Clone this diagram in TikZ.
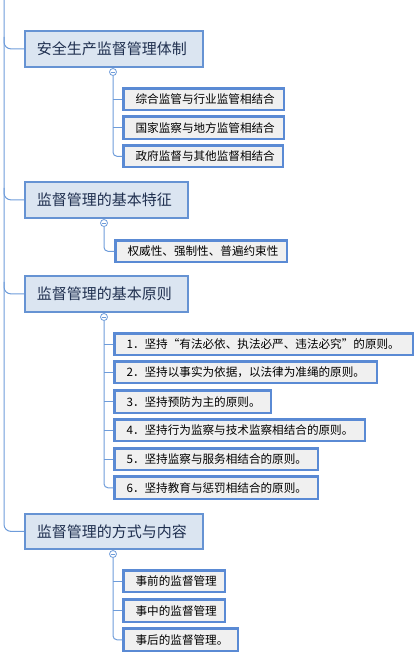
\documentclass[tikz,border=0pt]{standalone}
\usepackage{fontspec}
\newfontfamily\cjk{Noto Sans CJK SC}
\usetikzlibrary{calc}
\definecolor{mainfill}{HTML}{DBE5F1}
\definecolor{mainborder}{HTML}{6693D3}
\definecolor{subfill}{HTML}{F0F0F0}
\definecolor{subborder}{HTML}{5A8AD4}
\definecolor{connc}{HTML}{6E9CDA}
\definecolor{maintext}{HTML}{1F2F4F}
\tikzset{
  mainbox/.style={draw=mainborder, fill=mainfill, line width=1.8pt, inner xsep=12pt, inner ysep=0pt,
    anchor=north west, text=maintext, font=\cjk\fontsize{15}{18}\selectfont},
  subbox/.style={draw=subborder, fill=subfill, line width=2.6pt, inner xsep=12pt, inner ysep=0pt,
    anchor=north west, text=black, font=\cjk\fontsize{11.6}{14}\selectfont},
  conn/.style={draw=connc, line width=1pt},
  fold/.style={circle, draw=connc, fill=white, line width=0.8pt, minimum size=7pt, inner sep=0pt,
    path picture={\draw[connc, line width=0.7pt] ([xshift=-2pt]path picture bounding box.center) -- ([xshift=2pt]path picture bounding box.center);}}
}
\newcommand\mknode[8]{%
  \pgfmathsetmacro\bxw{#6-#4-#2}%
  \pgfmathsetmacro\bxh{#7-#5-#2}%
  \pgfmathsetmacro\bxt{#6-#4-#2-24}%
  \node[#1, minimum width=\bxw pt, minimum height=\bxh pt] (#3) at ({#4+#2/2},{#5+#2/2}) {\makebox[\bxt pt][l]{#8}};%
}
\begin{document}
\begin{tikzpicture}[x=1pt,y=-1pt]
\useasboundingbox (0,0) rectangle (420,656);
% main nodes
\mknode{mainbox}{1.8}{m1}{23}{29}{203}{67}{安全生产监督管理体制}
\mknode{mainbox}{1.8}{m2}{23}{180}{188}{218}{监督管理的基本特征}
\mknode{mainbox}{1.8}{m3}{23}{274}{188}{312}{监督管理的基本原则}
\mknode{mainbox}{1.8}{m4}{23}{512}{203}{549}{监督管理的方式与内容}
% children of m1
\mknode{subbox}{2.6}{a1}{121}{86}{284}{110}{综合监管与行业监管相结合}
\mknode{subbox}{2.6}{a2}{121}{114}{284}{139}{国家监察与地方监管相结合}
\mknode{subbox}{2.6}{a3}{121}{143}{283}{167}{政府监督与其他监督相结合}
% child of m2
\mknode{subbox}{2.6}{b1}{113}{238}{287}{262}{权威性、强制性、普遍约束性}
% children of m3
\mknode{subbox}{2.6}{c1}{112}{331}{413}{355}{1．坚持“有法必依、执法必严、违法必究”的原则。}
\mknode{subbox}{2.6}{c2}{112}{359}{377}{383}{2．坚持以事实为依据，以法律为准绳的原则。}
\mknode{subbox}{2.6}{c3}{112}{388}{271}{413}{3．坚持预防为主的原则。}
\mknode{subbox}{2.6}{c4}{112}{417}{365}{441}{4．坚持行为监察与技术监察相结合的原则。}
\mknode{subbox}{2.6}{c5}{112}{446}{318}{470}{5．坚持监察与服务相结合的原则。}
\mknode{subbox}{2.6}{c6}{112}{474}{318}{499}{6．坚持教育与惩罚相结合的原则。}
% children of m4
\mknode{subbox}{2.6}{d1}{121}{568}{225}{592}{事前的监督管理}
\mknode{subbox}{2.6}{d2}{121}{597}{225}{622}{事中的监督管理}
\mknode{subbox}{2.6}{d3}{121}{626}{238}{651}{事后的监督管理。}
% fold markers
\node[fold] (f1) at (113,72) {};
\node[fold] (f2) at (104,223) {};
\node[fold] (f3) at (104,317) {};
\node[fold] (f4) at (113,554) {};
% trunk
\coordinate (mtop) at (4,0);
\draw[conn, rounded corners=7] (mtop) |- (m4.west);
\draw[conn, rounded corners=7] ($(m1.west -| mtop)+(0,-12)$) |- (m1.west);
\draw[conn, rounded corners=7] ($(m2.west -| mtop)+(0,-12)$) |- (m2.west);
\draw[conn, rounded corners=7] ($(m3.west -| mtop)+(0,-12)$) |- (m3.west);
% branch connectors
\draw[conn, rounded corners=4] (f1.south) |- (a3.west);
\draw[conn] (f1.south |- a1.west) -- (a1.west);
\draw[conn] (f1.south |- a2.west) -- (a2.west);
\draw[conn, rounded corners=4] (f2.south) |- (b1.west);
\draw[conn, rounded corners=4] (f3.south) |- (c6.west);
\draw[conn] (f3.south |- c1.west) -- (c1.west);
\draw[conn] (f3.south |- c2.west) -- (c2.west);
\draw[conn] (f3.south |- c3.west) -- (c3.west);
\draw[conn] (f3.south |- c4.west) -- (c4.west);
\draw[conn] (f3.south |- c5.west) -- (c5.west);
\draw[conn, rounded corners=4] (f4.south) |- (d3.west);
\draw[conn] (f4.south |- d1.west) -- (d1.west);
\draw[conn] (f4.south |- d2.west) -- (d2.west);
\end{tikzpicture}
\end{document}
